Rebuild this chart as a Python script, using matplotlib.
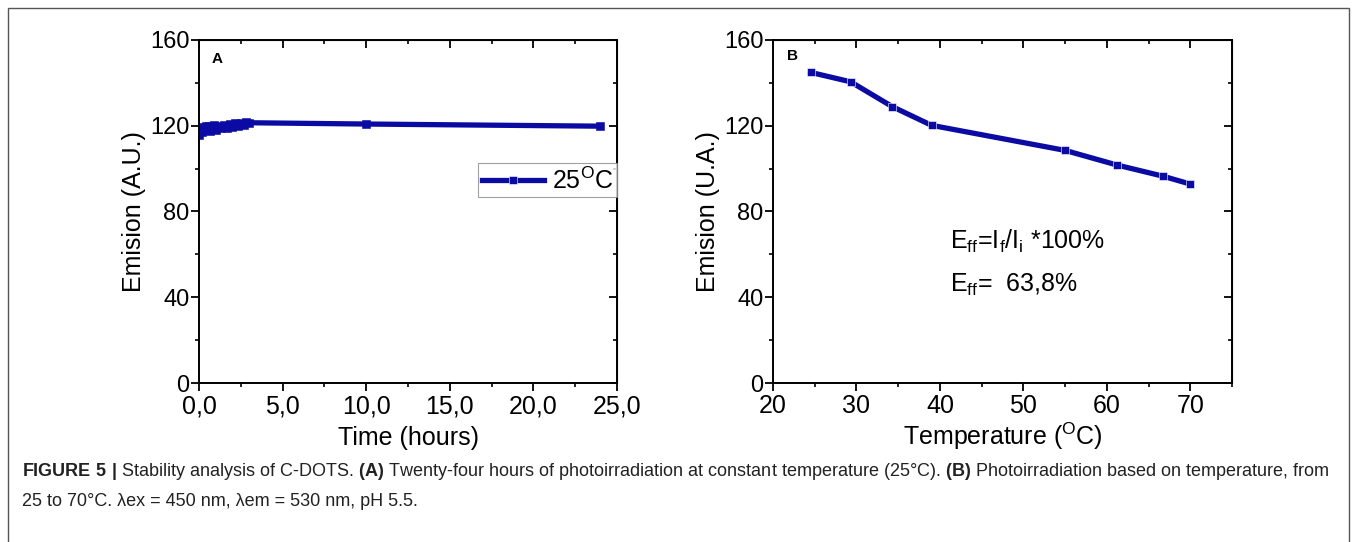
import matplotlib
matplotlib.use("Agg")
import matplotlib.pyplot as plt
from matplotlib.ticker import MultipleLocator, FuncFormatter
from matplotlib.patches import Rectangle

plt.rcParams['font.family'] = ['Liberation Sans', 'DejaVu Sans']
plt.rcParams['mathtext.fontset'] = 'custom'
plt.rcParams['mathtext.rm'] = 'Liberation Sans'
plt.rcParams['mathtext.bf'] = 'Liberation Sans:bold'

# panel A: emission over 24 h at 25 C
hours = [0.0, 0.08, 0.17, 0.25, 0.33, 0.42, 0.5, 0.58, 0.67, 0.75, 0.83,
         0.92, 1.0, 1.17, 1.33, 1.5, 1.67, 1.83, 2.0, 2.17, 2.33, 2.5,
         2.67, 2.83, 3.0, 10.0, 24.0]
emis_a = [115.5, 118.5, 117.0, 119.5, 117.8, 119.8, 118.0, 120.0, 117.6,
          119.6, 118.4, 120.2, 118.2, 120.0, 118.8, 120.4, 119.0, 121.0,
          119.2, 121.2, 119.8, 121.4, 120.4, 121.6, 121.4, 120.8, 119.8]

# panel B: emission vs temperature
temp = [24.5, 29.3, 34.3, 39.0, 55.0, 61.2, 66.7, 70.0]
emis_b = [144.9, 140.5, 128.9, 120.2, 108.5, 101.7, 96.5, 92.8]

blue = '#0b0ba3'
fs = 18
tfs = 17

fig = plt.figure(figsize=(13.55, 5.42), dpi=100)

# outer frame
fig.patches.append(Rectangle((8/1355, -0.1), 1341/1355, 1.1 - 8/542,
                             transform=fig.transFigure, fill=False,
                             edgecolor='#555555', lw=1.0))

axA = fig.add_axes([199/1355, 1 - 383/542, 418/1355, 343/542])
axB = fig.add_axes([773/1355, 1 - 383/542, 459/1355, 343/542])


def style(ax, xmaj, xmin, fmt):
    ax.set_ylim(0, 160)
    ax.yaxis.set_major_locator(MultipleLocator(40))
    ax.yaxis.set_minor_locator(MultipleLocator(20))
    ax.xaxis.set_major_locator(MultipleLocator(xmaj))
    ax.xaxis.set_minor_locator(MultipleLocator(xmin))
    ax.xaxis.set_major_formatter(FuncFormatter(fmt))
    ax.tick_params(which='major', direction='out', length=6, width=1.3,
                   labelsize=tfs, pad=1)
    ax.tick_params(which='minor', direction='out', length=3, width=1.2)
    ax.tick_params(axis='x', labelsize=fs, pad=2)
    for s in ax.spines.values():
        s.set_linewidth(1.4)
    top = ax.secondary_xaxis('top')
    top.xaxis.set_major_locator(MultipleLocator(xmaj))
    top.xaxis.set_minor_locator(MultipleLocator(xmin))
    top.tick_params(which='major', direction='in', length=6, width=1.3,
                    labeltop=False)
    top.tick_params(which='minor', direction='in', length=3, width=1.2)
    right = ax.secondary_yaxis('right')
    right.yaxis.set_major_locator(MultipleLocator(40))
    right.yaxis.set_minor_locator(MultipleLocator(20))
    right.tick_params(which='major', direction='in', length=6, width=1.3,
                      labelright=False)
    right.tick_params(which='minor', direction='in', length=3, width=1.2)


style(axA, 5, 2.5, lambda v, p: f"{v:.1f}".replace('.', ','))
axA.set_xlim(0, 25)
axA.plot(hours, emis_a, color=blue, lw=3.8, marker='s', ms=6,
         mec=blue, mew=0.4, label=r'25$^{\mathregular{O}}$C')
axA.set_xlabel('Time (hours)', fontsize=fs, labelpad=6)
axA.set_ylabel('Emision (A.U.)', fontsize=fs, labelpad=3)
axA.text(0.03, 0.965, 'A', transform=axA.transAxes, fontsize=11,
         fontweight='bold', va='top')
leg = axA.legend(loc='upper left', bbox_to_anchor=(0.667, 0.64),
                 fontsize=fs, frameon=True, fancybox=False,
                 edgecolor='#888888', handlelength=2.5, borderpad=0.15,
                 handletextpad=0.3, borderaxespad=0)
leg.get_frame().set_linewidth(0.8)
leg.get_lines()[0].set_markeredgecolor('white')

style(axB, 10, 5, lambda v, p: f"{v:.0f}")
axB.set_xlim(20, 75)
axB.plot(temp, emis_b, color=blue, lw=3.8, marker='s', ms=6,
         mec='white', mew=0.4)
axB.set_xlabel(r'Temperature ($^{\mathregular{O}}$C)', fontsize=fs,
               labelpad=2)
axB.set_ylabel('Emision (U.A.)', fontsize=fs, labelpad=3)
axB.text(0.03, 0.975, 'B', transform=axB.transAxes, fontsize=11,
         fontweight='bold', va='top')
axB.text(0.385, 0.392,
         r'E$_{\mathregular{ff}}$=I$_{\mathregular{f}}$/I$_{\mathregular{i}}$ *100%',
         transform=axB.transAxes, fontsize=fs)
axB.text(0.385, 0.267, r'E$_{\mathregular{ff}}$=  63,8%',
         transform=axB.transAxes, fontsize=fs)

# caption
cap1 = (r'$\mathbf{FIGURE\ 5\ |}$ Stability analysis of C-DOTS. '
        r'$\mathbf{(A)}$ Twenty-four hours of photoirradiation at constant '
        r'temperature (25°C). $\mathbf{(B)}$ Photoirradiation based on '
        r'temperature, from')
cap2 = '25 to 70°C. λex = 450 nm, λem = 530 nm, pH 5.5.'
fig.text(22/1355, 1 - 472/542, cap1, fontsize=13, va='center',
         color='#222222')
fig.text(22/1355, 1 - 502/542, cap2, fontsize=13, va='center',
         color='#222222')

fig.savefig('out.png', dpi=100)
